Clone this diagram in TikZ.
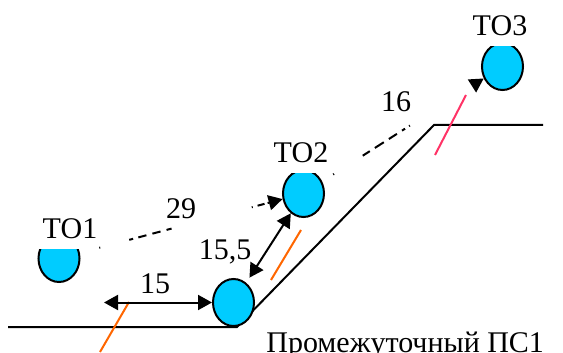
\documentclass[tikz,border=0pt]{standalone}
\usepackage{fontspec}
\setmainfont{Liberation Serif}
\usetikzlibrary{arrows.meta,shapes.geometric}
\definecolor{tocyan}{RGB}{0,204,255}
\definecolor{jointorange}{RGB}{255,102,0}
\definecolor{jointpink}{RGB}{255,51,102}
\tikzset{
  tonode/.style={ellipse,draw,line width=1pt,fill=tocyan,
    minimum width=20.5pt,minimum height=23.5pt,inner sep=0pt},
  tolabel/.style={fill=white,inner sep=5pt,anchor=base},
  numlabel/.style={anchor=base},
  track/.style={line width=1pt},
  joint/.style={line width=1pt},
  dimarrow/.style={line width=1pt,<->},
  sparsedash/.style={line width=1pt,->},
}

\begin{document}
\begin{tikzpicture}[x=0.5pt,y=-0.5pt,font=\fontsize{15pt}{18pt}\selectfont,
    >={Triangle[length=7pt,width=7.5pt]}]
    \useasboundingbox (0,0) rectangle (563,353);
    % track
    \draw[track] (8,327) -- (237,327) -- (434,125) -- (543,125);
    % joints
    \draw[joint,jointorange] (100,352) -- (129,302);
    \draw[joint,jointorange] (271,280) -- (301,230);
    \draw[joint,jointpink] (435,155) -- (466,95);
    % stations
    \node[tonode] (to1) at (59,258.5) {};
    \node[tonode] (pst) at (233.5,302.5) {};
    \node[tonode] (to2) at (303.5,193.5) {};
    \node[tonode] (to3) at (502.5,66.5) {};
    \node[tolabel] (to1lbl) at (70,239) {ТО1};
    \node[tolabel] (to2lbl) at (301,163) {ТО2};
    \node[tolabel] (to3lbl) at (500,36) {ТО3};
    \node[anchor=base west,inner sep=0pt] (pslbl) at (266,352) {Промежуточный ПС1};
    % distances
    \coordinate (dimL) at (104,302.5);
    \draw[dimarrow] (dimL) -- (pst);
    \draw[dimarrow,shorten <=3pt] (pst) -- (to2);
    \draw[sparsedash,shorten <=10pt,dash pattern=on 0.5pt off 15pt on 2pt off 2.7pt
      on 4.2pt off 3.1pt on 4.2pt off 3.1pt on 2.6pt off 41.5pt on 0.5pt off 2.5pt
      on 3.6pt off 1.6pt on 30pt] (to1) -- (to2);
    \draw[sparsedash,shorten <=6.5pt,dash pattern=on 0.5pt off 17pt on 4.2pt off 3pt
      on 5.3pt off 3pt on 4.8pt off 3pt on 1.8pt off 2.4pt on 0.5pt off 100pt]
      (to2) -- (to3);
    \node[numlabel] (d15) at (155,293) {15};
    \node[numlabel] (d155) at (225,259) {15,5};
    \node[numlabel] (d29) at (181,219) {29};
    \node[numlabel] (d16) at (396,112) {16};
\end{tikzpicture}
\end{document}
